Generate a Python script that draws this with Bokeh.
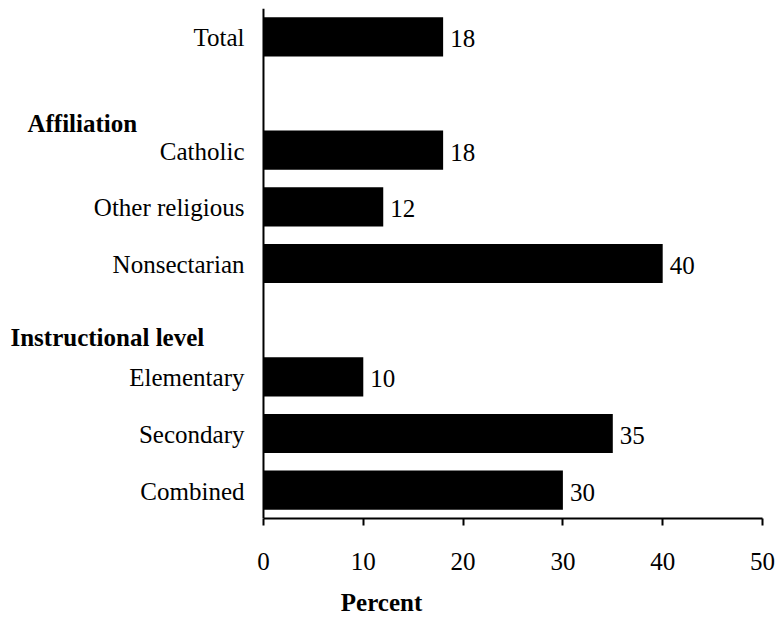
from bokeh.plotting import figure
from bokeh.models import Range1d, FixedTicker, Span, ColumnDataSource
from bokeh.core.properties import value
from bokeh.embed import file_html
from bokeh.resources import INLINE

# Rows from top to bottom; "" marks an empty spacer row
rows = ["Total", "", "Catholic", "Other religious", "Nonsectarian", "",
        "Elementary", "Secondary", "Combined"]
categories = ["Total", "Catholic", "Other religious", "Nonsectarian",
              "Elementary", "Secondary", "Combined"]
percent = [18, 18, 12, 40, 10, 35, 30]
x_ticks = [0, 10, 20, 30, 40, 50]
group_headers = ["Affiliation", "Instructional level"]
header_x = [-23.65, -25.35]      # left edge of header text (data units)
header_y = [1.53, 5.30]          # between rows

FONT = "Liberation Serif"
FS = "25px"

ypos = [rows.index(c) for c in categories]
src = ColumnDataSource(dict(y=ypos, v=percent, t=[str(v) for v in percent],
                            cat=categories, zero=[0] * len(categories)))
hsrc = ColumnDataSource(dict(x=header_x, y=header_y, t=group_headers))

p = figure(width=775, height=618, output_backend="svg", toolbar_location=None,
           x_range=Range1d(-26.35, 50), y_range=Range1d(len(rows) - 0.5, -0.5),
           min_border_left=0, min_border_right=13, min_border_top=8,
           min_border_bottom=0)
p.outline_line_color = None
p.xgrid.visible = False
p.ygrid.visible = False
p.yaxis.visible = False
p.background_fill_color = "white"
p.border_fill_color = "white"

p.hbar(y="y", right="v", left=0, height=0.69, source=src,
       fill_color="black", line_color=None)
# value labels
p.text(x="v", y="y", text="t", source=src, x_offset=7, y_offset=2,
       text_baseline="middle", text_align="left",
       text_font=value(FONT), text_font_size=value(FS), text_color="black")
# category labels
p.text(x="zero", y="y", text="cat", source=src, x_offset=-19, y_offset=1,
       text_baseline="middle", text_align="right",
       text_font=value(FONT), text_font_size=value(FS), text_color="black")
# group headers
p.text(x="x", y="y", text="t", source=hsrc,
       text_baseline="middle", text_align="left",
       text_font=value(FONT), text_font_size=value(FS),
       text_font_style="bold", text_color="black")

# vertical axis line at x = 0
p.add_layout(Span(location=0, dimension="height", line_color="black",
                  line_width=2))

# x axis
xa = p.xaxis[0]
xa.bounds = (0, 50)
xa.ticker = FixedTicker(ticks=x_ticks)
xa.axis_line_width = 2
xa.axis_line_color = "black"
xa.major_tick_line_width = 2
xa.major_tick_line_color = "black"
xa.major_tick_out = 7
xa.major_tick_in = 0
xa.minor_tick_out = 0
xa.minor_tick_in = 0
xa.major_label_standoff = 27
xa.major_label_text_font = FONT
xa.major_label_text_font_size = FS
xa.major_label_text_color = "black"
xa.axis_label = "Percent"
xa.axis_label_text_font = FONT
xa.axis_label_text_font_size = FS
xa.axis_label_text_font_style = "bold"
xa.axis_label_text_color = "black"
xa.axis_label_standoff = 16

open("out.html", "w").write(file_html(p, INLINE))
